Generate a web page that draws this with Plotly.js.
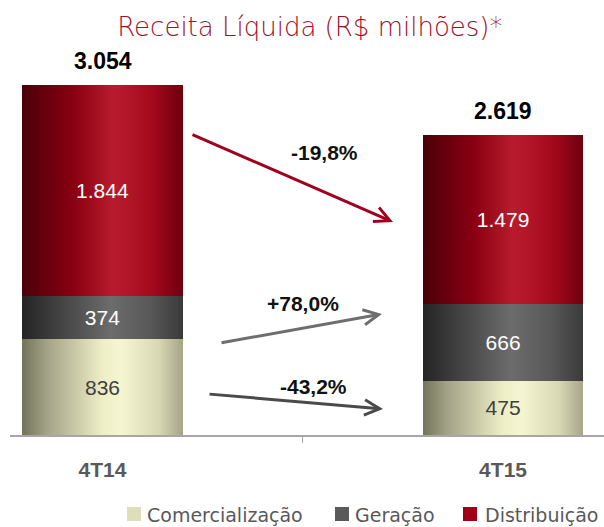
<!DOCTYPE html>
<html><head><meta charset="utf-8">
<script src="https://cdn.plot.ly/plotly-3.0.1.min.js"></script>
<style>html,body{margin:0;padding:0;background:#fff;} #chart{width:604px;height:527px;}</style>
</head><body><div id="chart"></div>
<script>
// ---- data ----
const categories = ['4T14', '4T15'];
const seriesNames = ['Comercialização', 'Geração', 'Distribuição'];
const comercializacao = [836, 475];
const geracao = [374, 666];
const distribuicao = [1844, 1479];
const totals = [3054, 2619];
const changeLabels = ['-19,8%', '+78,0%', '-43,2%'];
const titleText = 'Receita Líquida (R$ milhões)*';

// ---- styles ----
const legendColors = ['#dedeb8', '#595959', '#a00018'];
const textColors = ['#404040', '#ffffff', '#ffffff'];
const gradStops = [
  [[0,'#74745c'],[0.15,'#a2a286'],[0.5,'#eeeec6'],[0.62,'#f5f5d2'],[0.85,'#d8d8b4'],[1,'#a6a688']],
  [[0,'#242424'],[0.15,'#383838'],[0.55,'#6c6c6c'],[0.8,'#585858'],[1,'#3a3a3a']],
  [[0,'#4a0008'],[0.1,'#5e000b'],[0.32,'#8a0012'],[0.56,'#b71b2c'],[0.64,'#b5172a'],[0.82,'#a2081b'],[1,'#6e000f']]
];
const seriesValues = [comercializacao, geracao, distribuicao];

// plot-area pixel geometry helpers (for decorations only)
const L = 10, R = 604, T = 68, B = 435;
const W = R - L, H = B - T;
const px = x => (x - L) / W;
const py = y => (B - y) / H;

const FONT = 'Liberation Sans, Arial, sans-serif';

const data = seriesNames.map((name, i) => ({
  type: 'bar',
  name: name,
  x: categories,
  y: seriesValues[i],
  width: 0.4,
  marker: {color: legendColors[i], line: {width: 0}},
  texttemplate: '%{y:,.0f}',
  textposition: 'inside',
  insidetextanchor: 'middle',
  textangle: 0,
  insidetextfont: {family: FONT, size: 21, color: textColors[i]},
  hoverinfo: 'skip',
  showlegend: false
}));

function fmt(n) {
  return String(n).replace(/\B(?=(\d{3})+(?!\d))/g, '.');
}

const annotations = [];
// totals
totals.forEach((t, i) => annotations.push({
  x: categories[i], y: t, xref: 'x', yref: 'y',
  text: fmt(t), showarrow: false, yanchor: 'middle', yshift: 24,
  font: {family: FONT, size: 23, color: '#000', weight: 'bold'}
}));
// arrows: [tailX, tailY, tipX, tipY, color]
const arrows = [
  [191, 134, 393, 222, '#a00020'],
  [220, 343, 382, 314, '#6e6e6e'],
  [208, 394, 383, 409, '#4a4a4a']
];
arrows.forEach(a => annotations.push({
  xref: 'paper', yref: 'paper', x: px(a[2]), y: py(a[3]),
  ax: a[0] - a[2], ay: a[1] - a[3], axref: 'pixel', ayref: 'pixel',
  text: '', showarrow: true, arrowhead: 5, arrowsize: 1, arrowwidth: 3,
  arrowcolor: a[4], standoff: 0
}));
// change labels
const labelPos = [[324, 152], [303, 303], [313, 386]];
changeLabels.forEach((t, i) => annotations.push({
  xref: 'paper', yref: 'paper', x: px(labelPos[i][0]), y: py(labelPos[i][1]),
  text: t, showarrow: false, xanchor: 'center', yanchor: 'middle',
  font: {family: FONT, size: 21, color: '#111', weight: 'bold'}
}));
// custom legend
const legBoxes = [[127, 145], [335, 353], [463, 483]];
const shapes = [];
seriesNames.forEach((n, i) => {
  shapes.push({
    type: 'rect', xref: 'paper', yref: 'paper',
    x0: px(legBoxes[i][0]), x1: px(legBoxes[i][0] + 14),
    y0: py(521), y1: py(507),
    fillcolor: legendColors[i], line: {width: 0}
  });
  annotations.push({
    xref: 'paper', yref: 'paper', x: px(legBoxes[i][1]), y: py(515),
    text: n, showarrow: false, xanchor: 'left', yanchor: 'middle',
    font: {family: 'DejaVu Sans', size: 19, color: '#595959'}
  });
});

const layout = {
  width: 604, height: 527, autosize: false,
  margin: {l: L, r: 604 - R, t: T, b: 527 - B, pad: 0},
  paper_bgcolor: '#ffffff', plot_bgcolor: '#ffffff',
  separators: ',.',
  barmode: 'stack',
  showlegend: false,
  title: {
    text: titleText, x: 0.513, xanchor: 'center', xref: 'container',
    y: 1 - 27 / 527, yanchor: 'middle', yref: 'container',
    font: {family: 'DejaVu Sans, sans-serif', size: 26, weight: 200, color: '#a0102a'}
  },
  xaxis: {
    type: 'category', range: [-0.231, 1.252],
    showline: true, linecolor: '#a6a6a6', linewidth: 2,
    ticks: 'outside', tickson: 'boundaries', ticklen: 6, tickcolor: '#a6a6a6', tickwidth: 1,
    showgrid: false, zeroline: false,
    ticklabelstandoff: 15,
    tickfont: {family: FONT, size: 21, color: '#595959', weight: 'bold'}
  },
  yaxis: {visible: false, range: [0, 3202], showgrid: false, zeroline: false},
  annotations: annotations,
  shapes: shapes
};

Plotly.newPlot('chart', data, layout, {staticPlot: true, displayModeBar: false}).then(gd => {
  const ns = 'http://www.w3.org/2000/svg';
  const svg = gd.querySelector('svg.main-svg');
  let defs = svg.querySelector('defs');
  if (!defs) { defs = document.createElementNS(ns, 'defs'); svg.insertBefore(defs, svg.firstChild); }
  gradStops.forEach((stops, i) => {
    const g = document.createElementNS(ns, 'linearGradient');
    g.setAttribute('id', 'barGrad' + i);
    g.setAttribute('x1', '0'); g.setAttribute('x2', '1');
    g.setAttribute('y1', '0'); g.setAttribute('y2', '0');
    stops.forEach(s => {
      const st = document.createElementNS(ns, 'stop');
      st.setAttribute('offset', s[0]);
      st.setAttribute('stop-color', s[1]);
      g.appendChild(st);
    });
    defs.appendChild(g);
  });
  gd.querySelectorAll('.barlayer .trace').forEach((tr, i) => {
    tr.querySelectorAll('.point path').forEach(p => { p.style.fill = 'url(#barGrad' + i + ')'; });
  });
});
</script>
</body></html>
